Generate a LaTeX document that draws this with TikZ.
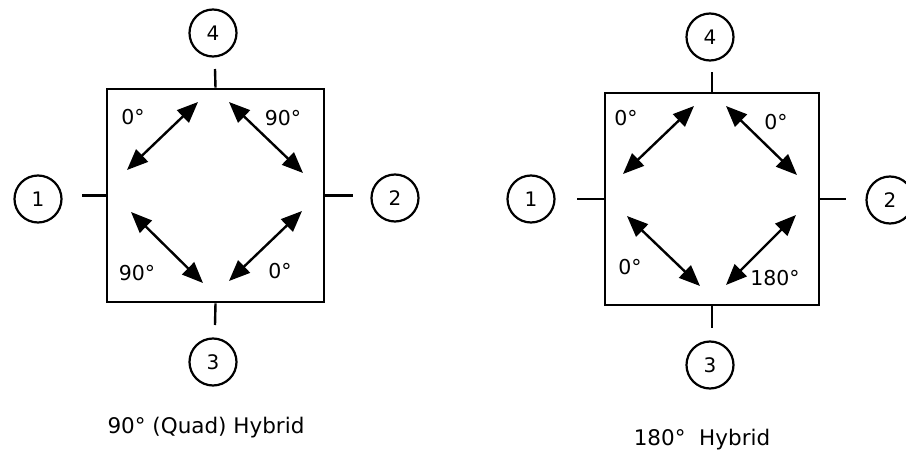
\documentclass[tikz,border=0pt]{standalone}
\usepackage{fontspec}
\setmainfont{DejaVu Sans}
\usetikzlibrary{arrows.meta}
\begin{document}
\begin{tikzpicture}[x=1pt,y=-1pt,
  port/.style={draw,circle,line width=2.2pt,minimum size=47pt,inner sep=0pt,font=\fontsize{20}{22}\selectfont},
  hybox/.style={draw,rectangle,line width=2.6pt,inner sep=0pt},
  tick/.style={line width=2.4pt},
  dbl/.style={line width=2.4pt,{Triangle[length=21pt,width=17pt]}-{Triangle[length=21pt,width=17pt]}},
  lab/.style={font=\fontsize{20.5}{22}\selectfont,inner sep=0pt},
  captext/.style={font=\fontsize{21.5}{24}\selectfont,inner sep=0pt}]
\clip (0,0) rectangle (906,455);
\fill[white] (0,0) rectangle (906,455);
% ---------- left: 90 deg hybrid ----------
\node[hybox,minimum width=217pt,minimum height=213pt] (L) at (215.5,195.5) {};
\node[port] (L4) at (213,33) {4};
\node[port] (L1) at (38,199) {1};
\node[port] (L2) at (395,198) {2};
\node[port] (L3) at (213,362) {3};
\coordinate (Lt) at (215,69);
\coordinate (Ll) at (82,195.5);
\coordinate (Lr) at (353,195.5);
\coordinate (Lb) at (215,325);
\draw[tick] (L.north) -- (Lt);
\draw[tick] (L.west) -- (Ll);
\draw[tick] (L.east) -- (Lr);
\draw[tick] (L.south) -- (Lb);
\coordinate (La1) at (127,170); \coordinate (La2) at (198,102);
\coordinate (Lb1) at (229,102); \coordinate (Lb2) at (303,173);
\coordinate (Lc1) at (131,212); \coordinate (Lc2) at (203,283);
\coordinate (Ld1) at (229,281); \coordinate (Ld2) at (302,211);
\draw[dbl] (La1) -- (La2);
\draw[dbl] (Lb1) -- (Lb2);
\draw[dbl] (Lc1) -- (Lc2);
\draw[dbl] (Ld1) -- (Ld2);
\node[lab] (Lp1) at (133,117) {0°};
\node[lab] (Lp2) at (283,118) {90°};
\node[lab] (Lp3) at (137,273) {90°};
\node[lab] (Lp4) at (280,271) {0°};
\node[captext] (Lcap) at (206,428) {90° (Quad) Hybrid};
% ---------- right: 180 deg hybrid ----------
\node[hybox,minimum width=214pt,minimum height=212pt] (R) at (712,199) {};
\node[port] (R4) at (710,37) {4};
\node[port] (R1) at (531,199) {1};
\node[port] (R2) at (890,200) {2};
\node[port] (R3) at (710,365) {3};
\coordinate (Rt) at (712,72);
\coordinate (Rl) at (577,199);
\coordinate (Rr) at (846,199);
\coordinate (Rb) at (712,328);
\draw[tick] (R.north) -- (Rt);
\draw[tick] (R.west) -- (Rl);
\draw[tick] (R.east) -- (Rr);
\draw[tick] (R.south) -- (Rb);
\coordinate (Ra1) at (623,174); \coordinate (Ra2) at (694,106);
\coordinate (Rb1) at (726,106); \coordinate (Rb2) at (797,175);
\coordinate (Rc1) at (627,216); \coordinate (Rc2) at (700,286);
\coordinate (Rd1) at (726,285); \coordinate (Rd2) at (796,215);
\draw[dbl] (Ra1) -- (Ra2);
\draw[dbl] (Rb1) -- (Rb2);
\draw[dbl] (Rc1) -- (Rc2);
\draw[dbl] (Rd1) -- (Rd2);
\node[lab] (Rp1) at (626,118) {0°};
\node[lab] (Rp2) at (776,122) {0°};
\node[lab] (Rp3) at (630,267) {0°};
\node[lab] (Rp4) at (775,278) {180°};
\node[captext] (Rcap) at (702,440) {180°\ \ Hybrid};
\end{tikzpicture}
\end{document}
